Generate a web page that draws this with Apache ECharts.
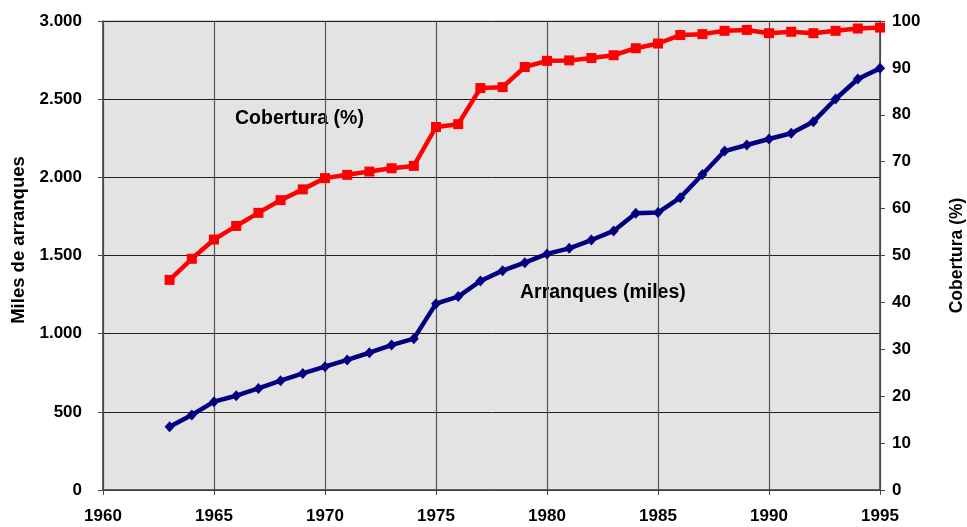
<!DOCTYPE html>
<html><head><meta charset="utf-8">
<script src="https://cdn.jsdelivr.net/npm/echarts@6/dist/echarts.min.js"></script>
<style>html,body{margin:0;padding:0;background:#fff}#c{width:967px;height:527px}</style>
</head><body><div id="c"></div>
<script>
var years = [1963,1964,1965,1966,1967,1968,1969,1970,1971,1972,1973,1974,1975,1976,1977,1978,1979,1980,1981,1982,1983,1984,1985,1986,1987,1988,1989,1990,1991,1992,1993,1994,1995];
var arranques = [405,480,565,603,650,699,746,789,832,878,927,968,1192,1237,1337,1403,1454,1510,1546,1599,1657,1770,1775,1870,2018,2168,2207,2245,2282,2356,2501,2629,2697];
var cobertura = [44.8,49.3,53.4,56.3,59.1,61.8,64.1,66.5,67.2,67.9,68.6,69.1,77.4,78.0,85.7,85.9,90.2,91.5,91.6,92.1,92.7,94.2,95.2,97.0,97.2,97.9,98.1,97.4,97.7,97.4,97.9,98.4,98.6];
var leftTicks = {min:0, max:3000, interval:500};
var rightTicks = {min:0, max:100, interval:10};
var xTicks = {min:1960, max:1995, interval:5};

function fmtThousands(v){ return String(v).replace(/\B(?=(\d{3})+(?!\d))/g, '.'); }
var font = '"Liberation Sans", Arial, sans-serif';
var lab = {color:'#000', fontFamily:font, fontWeight:'bold', fontSize:17};
var ttl = {color:'#000', fontFamily:font, fontWeight:'bold', fontSize:17.5};

var chart = echarts.init(document.getElementById('c'));
chart.setOption({
  animation:false,
  grid:{left:103, right:87, top:21, bottom:37, outerBoundsMode:'none', containLabel:false,
    show:true, backgroundColor:'#e3e3e3', borderColor:'#a0a0a0', borderWidth:1},
  xAxis:{type:'value', min:xTicks.min, max:xTicks.max, interval:xTicks.interval,
    axisLine:{lineStyle:{color:'#444', width:1.5}},
    axisTick:{length:5, lineStyle:{color:'#444'}},
    axisLabel:Object.assign({margin:18, formatter:function(v){return String(v);}}, lab),
    splitLine:{show:true, lineStyle:{color:'#555', width:1.2}}},
  yAxis:[
    {type:'value', min:leftTicks.min, max:leftTicks.max, interval:leftTicks.interval, position:'left',
      axisLine:{show:true, lineStyle:{color:'#444', width:1.5}},
      axisTick:{show:true, length:5, lineStyle:{color:'#444'}},
      axisLabel:Object.assign({margin:21, formatter:function(v){return fmtThousands(v);}}, lab),
      splitLine:{show:true, lineStyle:{color:'#222', width:1}}},
    {type:'value', min:rightTicks.min, max:rightTicks.max, interval:rightTicks.interval, position:'right',
      name:'Cobertura (%)', nameLocation:'middle', nameGap:68, nameRotate:90,
      nameTextStyle:ttl,
      axisLine:{show:true, lineStyle:{color:'#444', width:1.5}},
      axisTick:{show:true, length:5, lineStyle:{color:'#444'}},
      axisLabel:Object.assign({margin:12}, lab),
      splitLine:{show:false}}
  ],
  series:[
    {type:'line', name:'Cobertura (%)', yAxisIndex:1,
      data:years.map(function(y,i){return [y,cobertura[i]];}),
      symbol:'rect', symbolSize:10, showSymbol:true,
      lineStyle:{color:'#ff0000', width:4.5}, itemStyle:{color:'#ff0000'}, z:3},
    {type:'line', name:'Arranques (miles)', yAxisIndex:0,
      data:years.map(function(y,i){return [y,arranques[i]];}),
      symbol:'diamond', symbolSize:[10,11], showSymbol:true,
      lineStyle:{color:'#000080', width:4.5}, itemStyle:{color:'#000080'}, z:4}
  ],
  graphic:[
    {type:'text', x:19, y:240, rotation:Math.PI/2,
      style:{text:'Miles de arranques', fill:'#000', font:'bold 18.5px '+font, align:'center', verticalAlign:'middle'}},
    {type:'text', left:235, top:109, style:{text:'Cobertura (%)', fill:'#000', font:'bold 19.5px '+font}},
    {type:'text', left:520, top:283, style:{text:'Arranques (miles)', fill:'#000', font:'bold 19.5px '+font}}
  ]
});
</script></body></html>
